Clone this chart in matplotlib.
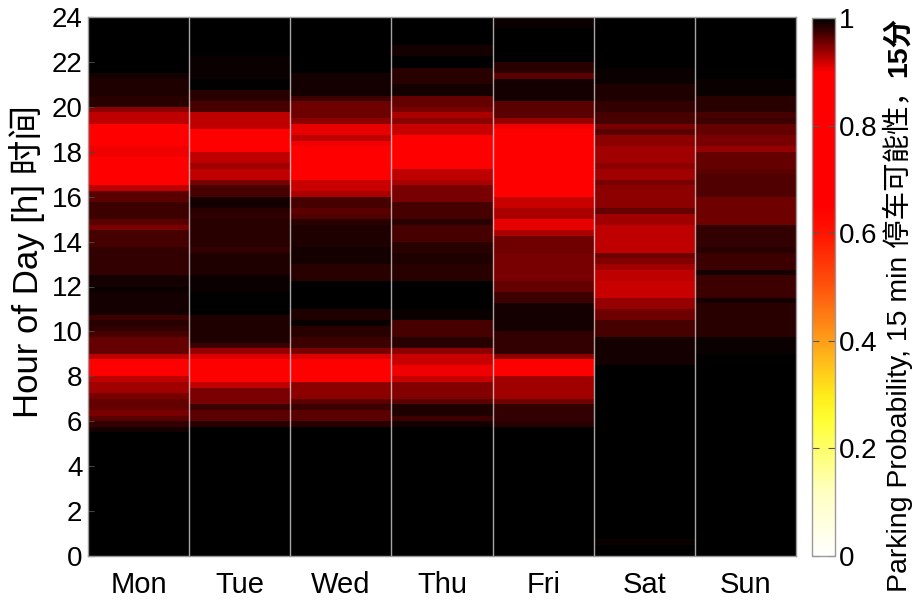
import matplotlib
matplotlib.use("Agg")
import matplotlib.pyplot as plt
import numpy as np
from matplotlib.colors import LinearSegmentedColormap

plt.rcParams["font.family"] = ["Liberation Sans", "Noto Sans CJK SC", "DejaVu Sans"]

days = ["Mon", "Tue", "Wed", "Thu", "Fri", "Sat", "Sun"]

# parking probability per 15 min slot, from 00:00 upwards (8 slots = 2 hours per line)
mon = [1, 1, 1, 1, 1, 1, 1, 1,
       1, 1, 1, 1, 1, 1, 1, 1,
       1, 1, 1, 1, 1, 1, .990, .980,
       .961, .953, .959, .959, .950, .934, .934, .925,
       .880, .880, .880, .922, .959, .959, .959, .969,
       .980, .984, .975, .992, .992, .992, .992, .994,
       .992, .992, .978, .978, .978, .978, .978, .972,
       .972, .972, .950, .961, .975, .975, .975, .962,
       .962, .922, .880, .880, .880, .880, .880, .906,
       .906, .880, .880, .880, .880, .925, .925, .944,
       .983, .983, .985, .985, .985, .991, 1, 1,
       1, 1, 1, 1, 1, 1, 1, 1]
tue = [1, 1, 1, 1, 1, 1, 1, 1,
       1, 1, 1, 1, 1, 1, 1, 1,
       1, 1, 1, 1, 1, 1, 1, .981,
       .962, .962, .975, .950, .950, .950, .925, .880,
       .880, .880, .880, .914, .941, .976, .987, .987,
       .987, .987, .987, 1, .997, .997, .997, .994,
       .994, .994, .987, .987, .987, .987, .978, .981,
       .981, .981, .981, .984, .978, .984, .991, .991,
       .972, .969, .953, .922, .922, .937, .922, .922,
       .880, .880, .880, .880, .925, .925, .925, .969,
       .969, .984, .984, .997, .997, .994, .994, .994,
       .994, 1, 1, 1, 1, 1, 1, 1]
wed = [1, 1, 1, 1, 1, 1, 1, 1,
       1, 1, 1, 1, 1, 1, 1, 1,
       1, 1, 1, 1, 1, 1, 1, .981,
       .962, .962, .975, .962, .944, .944, .944, .880,
       .880, .880, .880, .912, .950, .975, .975, .981,
       .981, .994, .987, .987, .997, .997, .997, .997,
       .997, .984, .984, .984, .991, .991, .991, .987,
       .987, .987, .987, .984, .965, .961, .969, .969,
       .931, .918, .918, .880, .880, .880, .880, .880,
       .880, .906, .925, .907, .907, .944, .956, .956,
       .956, .975, .991, .991, .991, .991, .997, .997,
       .997, .997, .997, .997, 1, 1, 1, 1]
thu = [1, 1, 1, 1, 1, 1, 1, 1,
       1, 1, 1, 1, 1, 1, 1, 1,
       1, 1, 1, 1, 1, 1, 1, .991,
       .975, .987, .987, .962, .947, .947, .947, .918,
       .906, .906, .918, .918, .944, .981, .981, .972,
       .972, .972, .994, .994, .998, .998, .998, .998,
       .998, .981, .981, .981, .987, .987, .984, .984,
       .972, .972, .972, .981, .969, .969, .969, .950,
       .950, .950, .931, .925, .925, .880, .880, .880,
       .880, .880, .880, .918, .918, .944, .931, .950,
       .959, .959, .991, .991, .984, .984, .984, .997,
       .997, .991, .991, .997, .997, .997, 1, 1]
fri = [1, 1, 1, 1, 1, 1, 1, 1,
       1, 1, 1, 1, 1, 1, 1, 1,
       1, 1, 1, 1, 1, 1, 1, .984,
       .978, .978, .978, .956, .934, .934, .934, .934,
       .880, .880, .880, .944, .978, .978, .978, .978,
       .992, .992, .992, .992, .992, .975, .975, .959,
       .959, .950, .950, .950, .950, .950, .956, .956,
       .956, .931, .909, .909, .931, .931, .918, .918,
       .880, .880, .880, .880, .880, .880, .880, .880,
       .880, .880, .880, .880, .906, .940, .962, .962,
       .962, .991, .991, .991, .991, .962, .984, .984,
       .997, .997, .997, .997, .997, .997, .994, .994]
sat = [1, 1, .994, 1, 1, 1, 1, 1,
       1, 1, 1, 1, 1, 1, 1, 1,
       1, 1, 1, 1, 1, 1, 1, 1,
       1, 1, 1, 1, 1, 1, 1, .997,
       .998, .998, .992, .992, .992, .992, .992, .972,
       .972, .969, .956, .956, .940, .940, .918, .918,
       .918, .922, .922, .937, .949, .956, .922, .922,
       .922, .922, .922, .934, .934, .959, .944, .944,
       .944, .944, .950, .937, .937, .945, .934, .934,
       .934, .944, .944, .962, .950, .972, .972, .978,
       .978, .987, .987, .987, .994, .994, .994, 1,
       1, .997, .997, .997, .999, .999, .999, .997]
sun = [1, 1, 1, 1, 1, 1, 1, 1,
       1, 1, 1, 1, 1, 1, 1, 1,
       1, 1, 1, 1, 1, 1, 1, 1,
       1, 1, 1, 1, 1, 1, 1, 1,
       1, 1, 1, 1, .996, .994, .994, .984,
       .984, .984, .984, .984, .984, .991, .975, .975,
       .975, .975, .991, .975, .975, .975, .984, .978,
       .978, .978, .978, .956, .956, .956, .956, .956,
       .965, .965, .965, .965, .962, .959, .959, .959,
       .940, .953, .953, .959, .959, .975, .969, .981,
       .981, .981, .994, .994, .994, 1, 1, 1,
       1, 1, 1, 1, 1, 1, 1, 1]

data = np.array([mon, tue, wed, thu, fri, sat, sun]).T  # 96 x 7

# white -> yellow -> orange -> red -> black
cmap = LinearSegmentedColormap.from_list("park", [
    (0.00, (1.00, 1.00, 1.00)),
    (0.12, (1.00, 1.00, 0.75)),
    (0.25, (1.00, 1.00, 0.20)),
    (0.30, (1.00, 0.92, 0.10)),
    (0.40, (1.00, 0.62, 0.10)),
    (0.50, (1.00, 0.33, 0.05)),
    (0.60, (1.00, 0.08, 0.00)),
    (0.65, (1.00, 0.00, 0.00)),
    (0.90, (1.00, 0.00, 0.00)),
    (1.00, (0.00, 0.00, 0.00)),
])

fig = plt.figure(figsize=(9.15, 6.05), dpi=100)
ax = fig.add_axes([88 / 915, 49 / 605, 708 / 915, 539 / 605])

x_edges = np.arange(len(days) + 1) + 0.5
y_edges = np.arange(data.shape[0] + 1) / 4
mesh = ax.pcolormesh(x_edges, y_edges, data, cmap=cmap, vmin=0, vmax=1)

for xb in x_edges[1:-1]:
    ax.axvline(xb, color="white", alpha=0.65, lw=1)

ax.set_xlim(0.5, len(days) + 0.5)
ax.set_ylim(0, 24)
ax.set_xticks(np.arange(1, len(days) + 1))
ax.set_xticklabels(days)
ax.set_yticks(np.arange(0, 25, 2))
ax.tick_params(axis="x", labelsize=21, length=0, pad=11)
ax.tick_params(axis="y", labelsize=20, direction="in", length=4, color="#444444", pad=4)
for s in ax.spines.values():
    s.set_color("#999999")
    s.set_linewidth(1)

fig.text(27 / 915, 1 - 261 / 605, "Hour of Day [h] 时间", rotation=90,
         ha="center", va="center", fontsize=25)

cax = fig.add_axes([812 / 915, 49 / 605, 23 / 915, 538 / 605])
cb = fig.colorbar(mesh, cax=cax, ticks=[0, 0.2, 0.4, 0.6, 0.8, 1])
cb.ax.set_yticklabels(["0", "0.2", "0.4", "0.6", "0.8", "1"])
cax.tick_params(labelsize=20, direction="in", left=True, right=True,
                length=5, color="#555555", pad=3)
cb.outline.set_edgecolor("#999999")
cb.outline.set_linewidth(1)

t1 = fig.text(898 / 915, 1 - 592 / 605, "Parking Probability, 15 min 停车可能性，",
              rotation=90, ha="center", va="bottom", fontsize=20.5)
fig.canvas.draw()
bb = t1.get_window_extent().transformed(fig.transFigure.inverted())
fig.text(898 / 915, bb.y1, "15分", rotation=90, ha="center", va="bottom",
         fontsize=20.5, fontweight="bold")

fig.savefig("out.png", dpi=100)
